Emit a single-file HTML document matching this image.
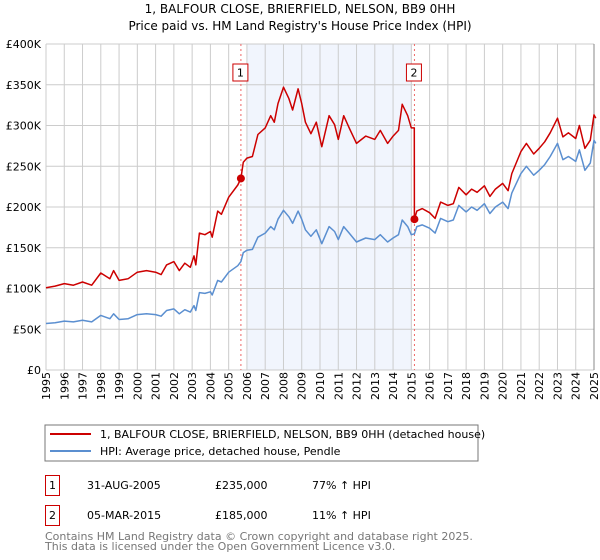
<!DOCTYPE html>
<html><head><meta charset="utf-8"><style>
body{margin:0;width:600px;height:560px;background:#fff;font-family:"DejaVu Sans","Liberation Sans",sans-serif;overflow:hidden}
svg{position:absolute;left:0;top:0}
</style></head><body>
<svg width="600" height="560" id="chart" font-family="DejaVu Sans, Liberation Sans, sans-serif">
<text x="300" y="13" text-anchor="middle" font-size="12" fill="#000">1, BALFOUR CLOSE, BRIERFIELD, NELSON, BB9 0HH</text>
<text x="300" y="30" text-anchor="middle" font-size="12" fill="#000">Price paid vs. HM Land Registry's House Price Index (HPI)</text>
<g id="plot"></g>
<rect x="45" y="425" width="433" height="36" fill="#fff" stroke="#777"/>
<line x1="50" y1="434" x2="91" y2="434" stroke="#cc0000" stroke-width="2"/>
<text x="100" y="438" font-size="11">1, BALFOUR CLOSE, BRIERFIELD, NELSON, BB9 0HH (detached house)</text>
<line x1="50" y1="451" x2="91" y2="451" stroke="#5b8fd0" stroke-width="2"/>
<text x="100" y="455" font-size="11">HPI: Average price, detached house, Pendle</text>
<g font-size="11" fill="#000">
<rect x="45.5" y="475.5" width="14" height="20" fill="none" stroke="#cc0000"/>
<text x="52.5" y="489" text-anchor="middle">1</text>
<text x="87" y="489">31-AUG-2005</text>
<text x="215" y="489">£235,000</text>
<text x="312" y="489">77% ↑ HPI</text>
<rect x="45.5" y="505.5" width="14" height="20" fill="none" stroke="#cc0000"/>
<text x="52.5" y="519" text-anchor="middle">2</text>
<text x="87" y="519">05-MAR-2015</text>
<text x="215" y="519">£185,000</text>
<text x="312" y="519">11% ↑ HPI</text>
</g>
<text x="45" y="540" font-size="11" fill="#777">Contains HM Land Registry data © Crown copyright and database right 2025.</text>
<text x="45" y="550" font-size="11" fill="#777">This data is licensed under the Open Government Licence v3.0.</text>
</svg>
<script>
const years=[1995,1995.5,1996,1996.5,1997,1997.5,1998,1998.5,1998.7,1999,1999.5,2000,2000.5,2001,2001.3,2001.6,2002,2002.3,2002.6,2002.9,2003.1,2003.2,2003.4,2003.7,2004,2004.1,2004.4,2004.6,2005,2005.5,2005.67,2005.8,2006,2006.3,2006.6,2007,2007.3,2007.5,2007.7,2008,2008.3,2008.5,2008.8,2009,2009.2,2009.5,2009.8,2010.1,2010.5,2010.8,2011,2011.3,2011.6,2012,2012.5,2013,2013.3,2013.7,2014,2014.3,2014.5,2014.8,2015,2015.16,2015.17,2015.3,2015.6,2016,2016.3,2016.6,2017,2017.3,2017.6,2018,2018.3,2018.6,2019,2019.3,2019.6,2020,2020.3,2020.5,2021,2021.3,2021.7,2022,2022.3,2022.6,2023,2023.3,2023.6,2024,2024.2,2024.5,2024.8,2025,2025.1];
const hpiValues=[57,58,60,59,61,59,67,63,69,62,63,68,69,68,66,73,75,69,74,71,79,73,95,94,96,92,110,108,120,128,133,144,147,148,163,168,176,172,185,196,188,180,195,185,172,164,172,155,176,170,160,176,168,157,162,160,166,157,162,166,184,176,166,167,167,176,178,174,168,186,182,184,202,194,200,196,204,192,200,206,198,217,241,250,239,245,252,262,278,258,262,256,270,245,254,282,278];
const propertyValues=[101,103,106,104,108,104,119,112,122,110,112,120,122,120,117,129,133,122,131,126,140,129,168,166,170,163,195,191,212,227,235,255,260,262,289,297,312,304,327,347,333,319,345,327,304,290,304,274,312,301,283,312,297,278,287,283,294,278,287,294,326,312,297,297,185,195,198,193,186,206,202,204,224,215,222,218,226,213,222,229,220,241,268,278,265,272,280,291,309,286,291,284,300,272,282,313,309];
const yTicks=[0,50,100,150,200,250,300,350,400];
const yTickLabels=["£0","£50K","£100K","£150K","£200K","£250K","£300K","£350K","£400K"];
const xTicks=[1995,1996,1997,1998,1999,2000,2001,2002,2003,2004,2005,2006,2007,2008,2009,2010,2011,2012,2013,2014,2015,2016,2017,2018,2019,2020,2021,2022,2023,2024,2025];
const sales=[2005.67,2015.17];
const salePrices=[235,185];
const saleLabels=["1","2"];
const shadeRange=[2006.0,2015.0];

const NS="http://www.w3.org/2000/svg";
const L=46,R=594,T=44,B=370;
const xs=v=>L+(v-1995)/30*(R-L);
const ys=v=>B-v/400*(B-T);
const g=document.getElementById('plot');
function mk(t,a){const e=document.createElementNS(NS,t);for(const k in a)e.setAttribute(k,a[k]);g.appendChild(e);return e;}

let sh=mk('rect',{x:xs(shadeRange[0]),y:T,width:xs(shadeRange[1])-xs(shadeRange[0]),height:B-T,fill:'#eef3fd',opacity:0.8});


xTicks.forEach(t=>{
  let l=mk('line',{x1:xs(t),x2:xs(t),y1:T,y2:B,stroke:'#cccccc','stroke-width':1});
  
  
  const x=xs(t)+4,y=B+30;
  let tx=mk('text',{x:x,y:y,'font-size':11,fill:'#000',transform:`rotate(-90 ${x} ${y})`});
  tx.textContent=t;
  
  
});
yTicks.forEach((t,i)=>{
  let l=mk('line',{x1:L,x2:R,y1:ys(t),y2:ys(t),stroke:'#cccccc','stroke-width':1});
  
  
  let tx=mk('text',{x:L-5,y:ys(t)+4,'font-size':11,'text-anchor':'end',fill:'#000'});
  tx.textContent=yTickLabels[i];
  
  
});
let rb=mk('line',{x1:R,x2:R,y1:T,y2:B,stroke:'#888','stroke-width':1});


sales.forEach((s,i)=>{
  let d=mk('line',{x1:xs(s),x2:xs(s),y1:T,y2:B,stroke:'#ee6666','stroke-width':1,'stroke-dasharray':'2,3'});
  
  
  let b=mk('rect',{x:xs(s)-8,y:64,width:15,height:17,fill:'#fff',stroke:'#cc0000'});
  
  
  let tx=mk('text',{x:xs(s)-0.5,y:76.5,'font-size':11,'text-anchor':'middle'});
  tx.textContent=saleLabels[i];
  
  
});
function pts(v){return years.map((y,i)=>xs(y).toFixed(1)+','+ys(v[i]).toFixed(1)).join(' ');}
let hp=mk('polyline',{points:pts(hpiValues),fill:'none',stroke:'#5b8fd0','stroke-width':1.5,'stroke-linejoin':'round'});


let pp=mk('polyline',{points:pts(propertyValues),fill:'none',stroke:'#cc0000','stroke-width':1.5,'stroke-linejoin':'round'});


sales.forEach((s,i)=>{
  let c=mk('circle',{cx:xs(s),cy:ys(salePrices[i]),r:4,fill:'#cc0000'});
  
  
});
</script>
</body></html>
